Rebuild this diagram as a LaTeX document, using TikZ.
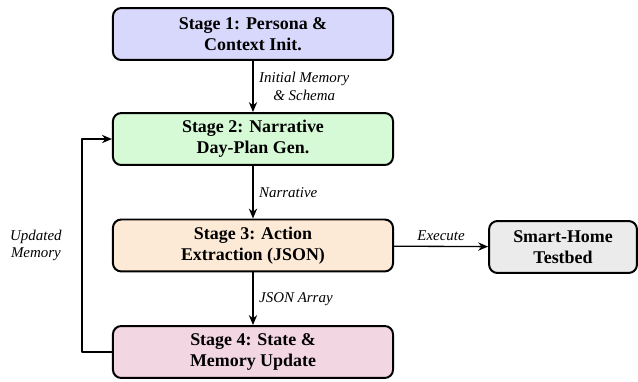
\documentclass[tikz,border=0pt]{standalone}
\usepackage{fontspec}
\setmainfont{Liberation Serif}
\usetikzlibrary{arrows.meta,positioning,calc}
\definecolor{stageA}{RGB}{216,216,252}
\definecolor{stageB}{RGB}{214,250,214}
\definecolor{stageC}{RGB}{253,234,214}
\definecolor{stageD}{RGB}{242,214,226}
\definecolor{testbed}{RGB}{235,235,235}

\begin{document}
\begin{tikzpicture}[line join=round,
  stage/.style={draw=black, line width=1.2pt, rounded corners=5pt, minimum width=5.93cm,
    minimum height=1.1cm, align=center, font=\fontsize{10.8}{12.8}\selectfont\bfseries},
  flow/.style={-{Stealth[length=6pt,width=5pt]}, line width=0.8pt},
  lbl/.style={font=\fontsize{9}{10.5}\selectfont\itshape, align=center}]
\useasboundingbox (0,0) rectangle (13.507,-8.087);
% the four stages
\node[stage, fill=stageA] (s1) at (5.356,-0.72) {Stage 1: Persona \&\\Context Init.};
\node[stage, fill=stageB] (s2) at (5.356,-2.943) {Stage 2: Narrative\\Day-Plan Gen.};
\node[stage, fill=stageC] (s3) at (5.356,-5.197) {Stage 3: Action\\Extraction (JSON)};
\node[stage, fill=stageD] (s4) at (5.356,-7.452) {Stage 4: State \&\\Memory Update};
\node[stage, fill=testbed, minimum width=3.13cm] (tb) at (11.92,-5.229) {Smart-Home\\Testbed};
% arrows
\draw[flow] (s1) -- node[lbl, right] {Initial Memory\\\& Schema} (s2);
\draw[flow] (s2) -- node[lbl, right] {Narrative} (s3);
\draw[flow] (s3) -- node[lbl, right] {JSON Array} (s4);
\draw[flow] (s3) -- node[lbl, above] {Execute} (tb);
\coordinate (back) at ($(s4.west)+(-0.634,0)$);
\draw[flow] (s4.west) -- (back) |- node[lbl, left, pos=0.25, xshift=-0.3cm] {Updated\\Memory} (s2.west);
\end{tikzpicture}
\end{document}
